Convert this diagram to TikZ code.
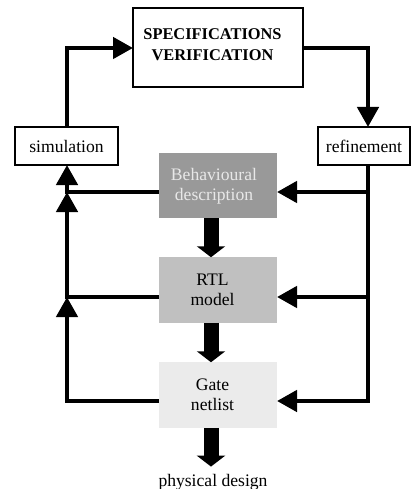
\documentclass[tikz,border=0pt]{standalone}
\usepackage{fontspec}
\setmainfont{Liberation Serif}
\usetikzlibrary{arrows.meta,calc}
\definecolor{behavgray}{HTML}{999999}
\definecolor{rtlgray}{HTML}{C0C0C0}
\definecolor{gategray}{HTML}{EBEBEB}
\definecolor{lighttext}{HTML}{E8E8E8}
\begin{document}
\begin{tikzpicture}[x=1pt,y=-1pt,
  every node/.style={font=\fontsize{17.6}{20}\selectfont},
  whitebox/.style={draw,line width=1.3pt,fill=white,inner sep=0,outer sep=0},
  graybox/.style={inner sep=0,outer sep=0,minimum width=118pt,minimum height=65.5pt},
  lbl/.style={inner sep=0,align=center},
  conn/.style={line width=4.5pt,-{Triangle[length=20pt,width=21pt]}},
  blockarrow/.style={line width=15pt,-{Triangle[length=11pt,width=28pt]}}]
\useasboundingbox (0,0) rectangle (411,489);
% coordinates for connector lanes
\coordinate (xl) at (67,0);
\coordinate (xr) at (368,0);
\coordinate (ax) at (211,0);
\coordinate (yt) at (0,48);
\coordinate (yb) at (0,192);
\coordinate (yr) at (0,297);
\coordinate (yg) at (0,401);
% boxes
\node[whitebox,minimum width=170pt,minimum height=79pt] (spec) at (218,47.5) {};
\node[lbl,font=\bfseries\fontsize{16.4}{21}\selectfont] (specT) at (212.5,44.5) {SPECIFICATIONS\\VERIFICATION};
\node[whitebox,minimum width=103pt,minimum height=38pt] (sim) at (66.5,146) {simulation};
\node[whitebox,minimum width=92pt,minimum height=38pt] (refine) at (364,146) {refinement};
\node[graybox,fill=behavgray] (behav) at (218,185.5) {};
\node[lbl,text=lighttext] (behavT) at (214,186) {Behavioural\\description};
\node[graybox,fill=rtlgray] (rtl) at (218,290) {};
\node[lbl] (rtlT) at (212.5,290) {RTL\\model};
\node[graybox,fill=gategray] (gate) at (218,395) {};
\node[lbl] (gateT) at (212.5,395) {Gate\\netlist};
\node[lbl,anchor=base] (pd) at (213,486) {physical design};
% outer loop
\draw[conn] (xl |- sim.north) -- (xl |- yt) -- (spec.west |- yt);
\draw[conn] (spec.east |- yt) -| (xr |- refine.north);
% left feedback
\draw[conn] (behav.west |- yb) -| (xl |- sim.south);
\draw[conn] (rtl.west |- yr) -| (xl |- yb);
\draw[conn] (gate.west |- yg) -| (xl |- yr);
% right refinement
\draw[conn] (xr |- refine.south) |- (gate.east |- yg);
\draw[conn] (xr |- yb) -- (behav.east |- yb);
\draw[conn] (xr |- yr) -- (rtl.east |- yr);
% block arrows
\draw[blockarrow] (ax |- behav.south) -- (ax |- rtl.north);
\draw[blockarrow] (ax |- rtl.south) -- (ax |- gate.north);
\draw[blockarrow] (ax |- gate.south) -- ($(ax |- pd.north)+(0,-7)$);
\end{tikzpicture}
\end{document}
